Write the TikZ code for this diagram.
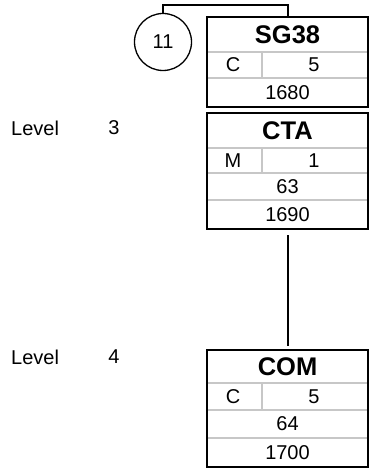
\documentclass[tikz,border=0pt]{standalone}
\usepackage{fontspec}
\setmainfont{Liberation Sans}
\usetikzlibrary{positioning}
\tikzset{
  recbox/.style={draw=black, line width=2pt, minimum width=161pt, inner sep=0pt},
  sep/.style={draw=black!22, line width=2pt},
  txt/.style={inner sep=0pt, font=\fontsize{20}{22}\selectfont},
  ttl/.style={inner sep=0pt, font=\bfseries\fontsize{25.5}{27}\selectfont},
  link/.style={draw=black, line width=2pt}
}
\begin{document}
\begin{tikzpicture}[x=1pt,y=-1pt]
\useasboundingbox (0,0) rectangle (370,470);
% level labels
\node[txt, anchor=west] (lv3) at (11,128) {Level};
\node[txt] (lv3n) at (114,128) {3};
\node[txt, anchor=west] (lv4) at (11,357) {Level};
\node[txt] (lv4n) at (114,357) {4};
% group circle
\node[draw, circle, line width=1.3pt, minimum size=57pt, inner sep=0pt, font=\fontsize{20}{22}\selectfont] (c11) at (163,42) {11};
% SG38
\node[recbox, minimum height=90pt] (sg38) at (287.5,62) {};
\draw[sep] (208,52) -- (367,52);
\draw[sep] (208,78) -- (367,78);
\draw[sep] (262,53) -- (262,77);
\node[ttl] (sg38t) at (287.5,34.5) {SG38};
\node[txt] (sg38s) at (233,65) {C};
\node[txt] (sg38r) at (314,65) {5};
\node[txt] (sg38n) at (287.5,92.5) {1680};
% CTA
\node[recbox, minimum height=116pt] (cta) at (287.5,171) {};
\draw[sep] (208,148) -- (367,148);
\draw[sep] (208,173) -- (367,173);
\draw[sep] (208,200) -- (367,200);
\draw[sep] (262,149) -- (262,172);
\node[ttl] (ctat) at (287.5,130.5) {CTA};
\node[txt] (ctas) at (233,160.5) {M};
\node[txt] (ctar) at (314,160.5) {1};
\node[txt] (ctaa) at (287.5,186.5) {63};
\node[txt] (ctan) at (287.5,214.5) {1690};
% COM
\node[recbox, minimum height=117pt] (com) at (287.5,408.5) {};
\draw[sep] (208,383) -- (367,383);
\draw[sep] (208,410) -- (367,410);
\draw[sep] (208,438) -- (367,438);
\draw[sep] (262,384) -- (262,409);
\node[ttl] (comt) at (287.5,366.5) {COM};
\node[txt] (coms) at (233,396.5) {C};
\node[txt] (comr) at (314,396.5) {5};
\node[txt] (coma) at (287.5,424) {64};
\node[txt] (comn) at (287.5,452.5) {1700};
% connectors
\coordinate (tp) at (287.5,5);
\draw[link] (c11.north) |- (tp) -- (sg38.north);
\draw[link, shorten <=5pt, shorten >=3pt] (cta.south) -- (com.north);
\end{tikzpicture}
\end{document}
